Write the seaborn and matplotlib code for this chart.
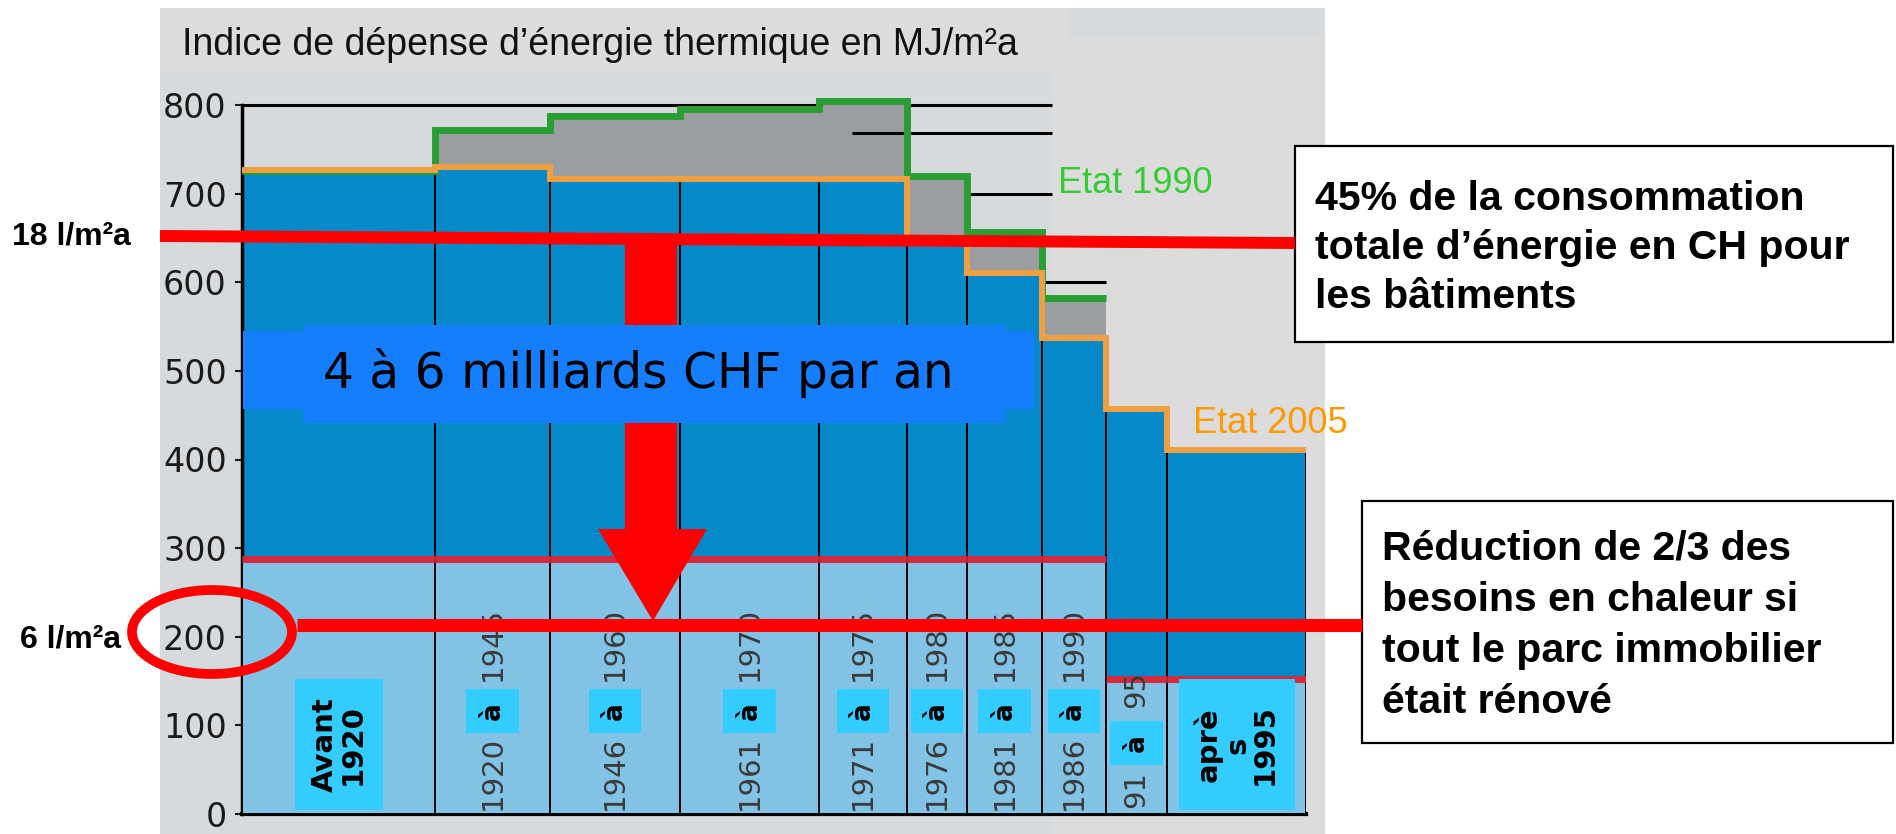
import numpy as np
import matplotlib
matplotlib.use('Agg')
import matplotlib.pyplot as plt
from matplotlib.patches import Rectangle, Polygon, Ellipse
import seaborn as sns

# périodes de construction (largeur ~ part du parc)
debut = ['Avant\n1920', '1920', '1946', '1961', '1971', '1976', '1981', '1986', '91', 'aprè\ns\n1995']
fin = ['', '1945', '1960', '1970', '1975', '1980', '1985', '1990', '95', '']
largeurs = [193, 115, 130, 139, 88, 60, 75, 64, 61, 139]

# indice de dépense d'énergie thermique, MJ/m2a
etat_1990 = [725, 772, 788, 795, 805, 720, 657, 582]
etat_2005 = [727, 730, 716, 716, 716, 648, 610, 537, 457, 411]
renove = [288, 288, 288, 288, 288, 288, 288, 288, 152, 152]

yticks = [0, 100, 200, 300, 400, 500, 600, 700, 800]

note_45 = ['45% de la consommation', 'totale d’énergie en CH pour', 'les bâtiments']
note_23 = ['Réduction de 2/3 des', 'besoins en chaleur si', 'tout le parc immobilier', 'était rénové']

GRIS = '#9b9ea1'
BLEU = '#0589c8'
BLEU_CLAIR = '#82c2e4'
CYAN = '#33ccff'
VERT = '#2a9e34'
ORANGE = '#f0a040'
CRIMSON = '#d42a3c'
ROUGE = '#ff0000'

sns.set_theme(style='ticks')
plt.rcParams['font.family'] = ['DejaVu Sans']
plt.rcParams['text.color'] = 'black'

W, H = 1896, 834
fig = plt.figure(figsize=(W / 100, H / 100), dpi=100)
fig.patch.set_facecolor('white')

# fond gris du panneau
bg = fig.add_axes([0, 0, 1, 1], zorder=-1)
bg.set_xlim(0, W)
bg.set_ylim(H, 0)
bg.axis('off')
bg.add_patch(Rectangle((160, 8), 1165, 830, color='#dcdcdc', lw=0))
bg.add_patch(Rectangle((160, 73), 892, 765, color='#d7dadd', lw=0))
bg.add_patch(Rectangle((1068, 8), 257, 29, color='#d7dadd', lw=0))

# axes principaux : 1 unité x = 1 px, 0 -> y 814, 800 -> y 105
px = (814 - 105) / 800
ymax = 840
ax = fig.add_axes([242 / W, 20 / H, 1064 / W, ymax * px / H])
ax.set_facecolor('none')

edges = np.concatenate([[0], np.cumsum(largeurs)])
lefts = edges[:-1]
n90 = len(etat_1990)

ax.hlines([800, 700, 600], 0, [810, 810, 864], color='black', lw=2.2, zorder=0.5)
ax.bar(lefts[:n90], etat_1990, width=largeurs[:n90], align='edge', color=GRIS, lw=0, zorder=1)
ax.hlines(768, 610, 810, color='black', lw=2.2, zorder=1.5)
ax.bar(lefts, etat_2005, width=largeurs, align='edge', color=BLEU,
       edgecolor='black', lw=1.4, zorder=2)
ax.bar(lefts, renove, width=largeurs, align='edge', color=BLEU_CLAIR,
       edgecolor='black', lw=1.4, zorder=3)
ax.hlines(renove, lefts, edges[1:], color=CRIMSON, lw=5, zorder=4)

sns.lineplot(x=edges[:n90 + 1], y=np.r_[etat_1990, etat_1990[-1]], drawstyle='steps-post',
             color=VERT, lw=5, estimator=None, sort=False, ax=ax, zorder=5,
             solid_joinstyle='miter', solid_capstyle='butt')
sns.lineplot(x=edges, y=np.r_[etat_2005, etat_2005[-1]], drawstyle='steps-post',
             color=ORANGE, lw=4.3, estimator=None, sort=False, ax=ax, zorder=6,
             solid_joinstyle='miter', solid_capstyle='butt')

# étiquettes des périodes
centres = lefts + np.array(largeurs) / 2
annee = dict(rotation=90, ha='center', fontsize=21, color='#3a3a3a', zorder=7)
a_box = dict(rotation=90, ha='center', va='center', fontsize=19, fontweight='bold', zorder=7,
             bbox=dict(boxstyle='square,pad=0.5', fc=CYAN, ec='none'))
for i, (d, f) in enumerate(zip(debut, fin)):
    cx = centres[i]
    if f == '':
        hw = 44 if i == 0 else 58
        ax.add_patch(Rectangle((cx - hw, 4), 2 * hw, 148, color=CYAN, lw=0, zorder=6.5))
        ax.text(cx, 78, d, rotation=90, ha='center', va='center', fontsize=21,
                fontweight='bold', color='black', multialignment='center',
                linespacing=1.0, zorder=7)
    elif d == '91':
        ax.text(cx, 28, d, va='center', **annee)
        ax.text(cx, 80, 'à', **a_box)
        ax.text(cx, 140, f, va='center', **annee)
    else:
        ax.text(cx, 5, d, va='bottom', **annee)
        ax.text(cx, 116, 'à', **a_box)
        ax.text(cx, 150, f, va='bottom', **annee)

ax.set_xlim(0, edges[-1])
ax.set_ylim(0, ymax)
ax.set_xticks([])
ax.set_yticks(yticks)
ax.set_yticklabels([str(v) for v in yticks])
ax.tick_params(axis='y', length=5, width=1.5, labelsize=24, pad=6, colors='#1a1a1a')
sns.despine(ax=ax)
ax.spines['left'].set_bounds(0, 800)
ax.spines['left'].set_linewidth(2.5)
ax.spines['left'].set_color('black')
ax.spines['bottom'].set_linewidth(3)
ax.spines['bottom'].set_color('black')

# annotations en coordonnées pixel
ov = fig.add_axes([0, 0, 1, 1], zorder=5)
ov.set_xlim(0, W)
ov.set_ylim(H, 0)
ov.axis('off')
ov.patch.set_alpha(0)

ov.text(182, 55, 'Indice de dépense d’énergie thermique en MJ/m²a', fontsize=27,
        family='Liberation Sans', color='#111111', va='baseline')
ov.text(1058, 193, 'Etat 1990', fontsize=26, family='Liberation Sans', color='#33cc33', va='baseline')
ov.text(1193, 433, 'Etat 2005', fontsize=26, family='Liberation Sans', color='#ff9900', va='baseline')

ov.plot([160, 1295], [236, 243], color=ROUGE, lw=8.6, solid_capstyle='butt')
ov.add_patch(Rectangle((625, 240), 52, 290, color=ROUGE, lw=0))
ov.add_patch(Polygon([(598, 529), (707, 529), (653, 621)], closed=True, color=ROUGE, lw=0))

ov.add_patch(Rectangle((243, 331), 791, 78, color='#157efd', lw=0))
ov.add_patch(Rectangle((303, 325), 702, 98, color='#157efd', lw=0))
ov.text(638, 388, '4 à 6 milliards CHF par an', fontsize=35, ha='center', va='baseline', color='black')

ov.plot([297, 1362], [625, 625], color=ROUGE, lw=9.4, solid_capstyle='butt')
ov.add_patch(Ellipse((212, 632), 160, 84, fill=False, ec=ROUGE, lw=7))

ov.text(12, 236, '18 l/m²a', fontsize=23, fontweight='bold', family='Liberation Sans', va='center')
ov.text(20, 640, '6 l/m²a', fontsize=23, fontweight='bold', family='Liberation Sans', va='center')

ov.add_patch(Rectangle((1295, 146), 598, 196, fc='white', ec='black', lw=1.6))
for k, ligne in enumerate(note_45):
    ov.text(1315, 210 + 49 * k, ligne, fontsize=29.5, fontweight='bold',
            family='Liberation Sans', va='baseline')
ov.add_patch(Rectangle((1362, 501), 531, 242, fc='white', ec='black', lw=1.6))
for k, ligne in enumerate(note_23):
    ov.text(1382, 560 + 51 * k, ligne, fontsize=29.5, fontweight='bold',
            family='Liberation Sans', va='baseline')

fig.savefig('out.png', dpi=100)
